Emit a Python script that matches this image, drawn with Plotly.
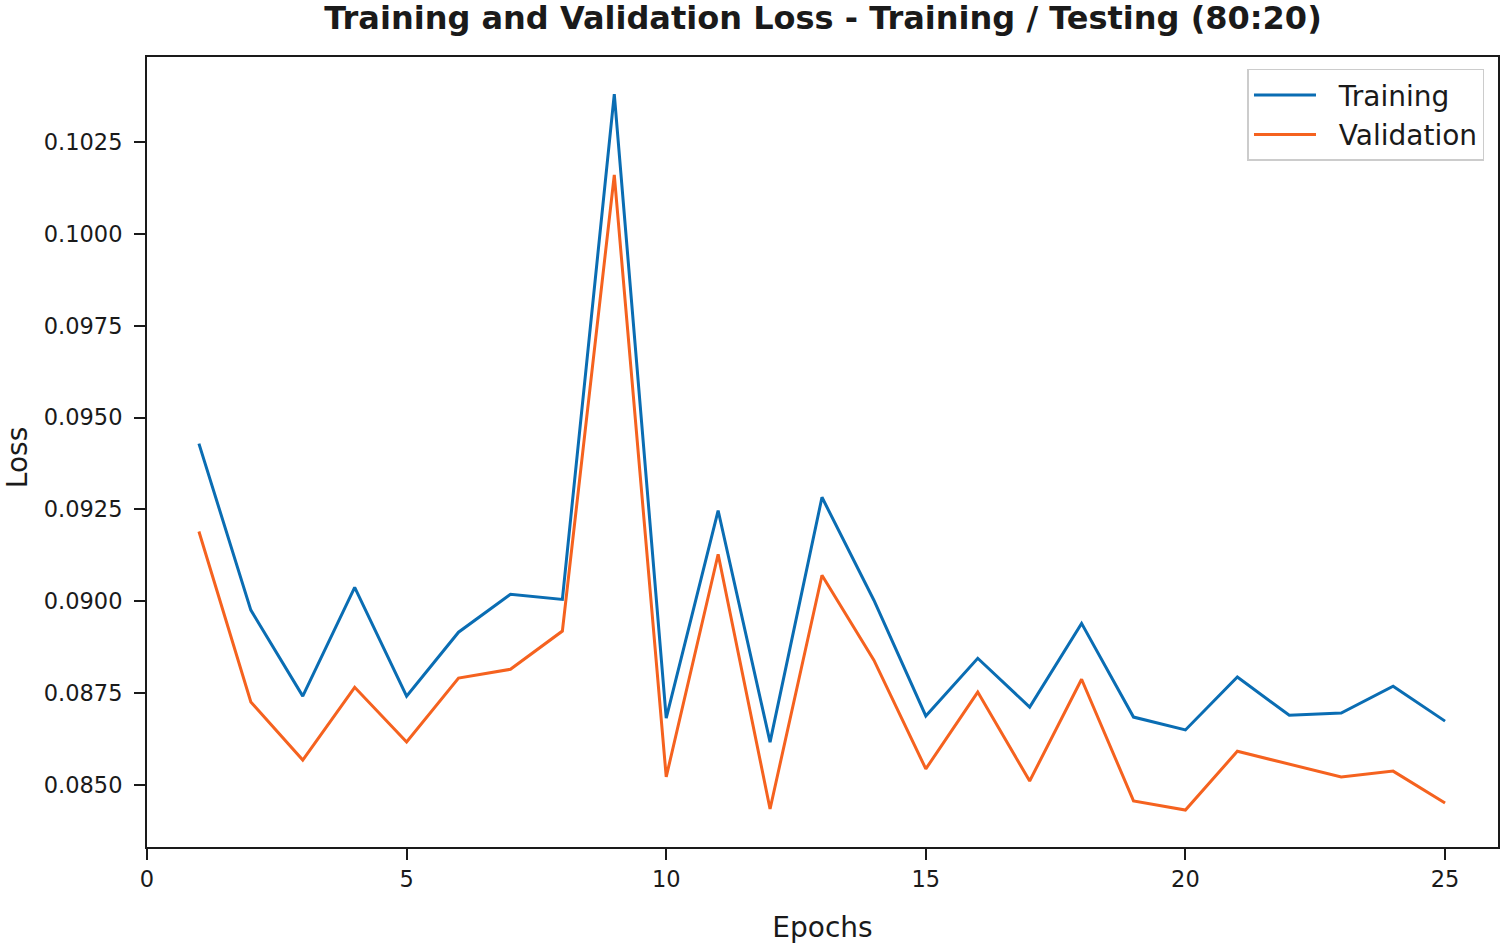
import plotly.graph_objects as go

epochs = list(range(1, 26))
training_loss = [0.09429, 0.08976, 0.08742, 0.09038, 0.08742, 0.08916, 0.09019, 0.09005,
                 0.10380, 0.08682, 0.09247, 0.08617, 0.09283, 0.09003, 0.08688, 0.08845,
                 0.08712, 0.08940, 0.08685, 0.08650, 0.08794, 0.08690, 0.08696, 0.08769,
                 0.08674]
validation_loss = [0.09190, 0.08726, 0.08568, 0.08766, 0.08617, 0.08791, 0.08815, 0.08919,
                   0.10160, 0.08522, 0.09128, 0.08435, 0.09071, 0.08840, 0.08544, 0.08753,
                   0.08511, 0.08788, 0.08457, 0.08432, 0.08592, 0.08557, 0.08522, 0.08538,
                   0.08451]
x_ticks = [0, 5, 10, 15, 20, 25]
y_ticks = [0.0850, 0.0875, 0.0900, 0.0925, 0.0950, 0.0975, 0.1000, 0.1025]

font_family = "DejaVu Sans"
ink = "#1a1a1a"

W, H = 1505, 946
ML, MR, MT, MB = 147, 5, 57, 99
PW, PH = W - ML - MR, H - MT - MB

fig = go.Figure()
fig.add_trace(go.Scatter(x=epochs, y=training_loss, mode="lines", name="\u00a0\u00a0Training",
                         line=dict(color="#0a6db3", width=3)))
fig.add_trace(go.Scatter(x=epochs, y=validation_loss, mode="lines", name="\u00a0\u00a0Validation",
                         line=dict(color="#f5621f", width=3)))

axis_common = dict(showline=True, linecolor=ink, linewidth=2, mirror=True,
                   ticks="outside", ticklen=11, tickwidth=2, tickcolor=ink,
                   showgrid=False, zeroline=False,
                   tickfont=dict(family=font_family, size=22.5, color=ink))

fig.update_layout(
    width=W, height=H,
    paper_bgcolor="white", plot_bgcolor="white",
    margin=dict(l=ML, r=MR, t=MT, b=MB),
    title=dict(text="<b>Training and Validation Loss - Training / Testing (80:20)</b>",
               x=823 / W, xanchor="center", y=1 - 18 / H, yanchor="middle",
               font=dict(family=font_family, size=32, color=ink)),
    xaxis=dict(range=[0, 26.02], tickvals=x_ticks,
               title=dict(text="Epochs", font=dict(family=font_family, size=28, color=ink), standoff=26),
               **axis_common),
    yaxis=dict(range=[0.083315, 0.10481], tickvals=y_ticks, tickformat=".4f",
               ticklabelstandoff=7,
               **axis_common),
    legend=dict(x=0.99, y=0.985, xanchor="right", yanchor="top",
                bgcolor="rgba(255,255,255,0.9)", bordercolor="#cccccc", borderwidth=1.5,
                itemwidth=62,
                font=dict(family=font_family, size=28, color=ink)),
    showlegend=True,
    annotations=[dict(text="Loss", textangle=-90, showarrow=False,
                      xref="paper", yref="paper",
                      x=-(ML - 17) / PW, y=1 - (458 - MT) / PH,
                      xanchor="center", yanchor="middle", borderpad=0,
                      font=dict(family=font_family, size=28, color=ink))],
)

fig.write_html("out.html", config={"displayModeBar": False},
               post_script="document.body.style.margin='0';")
